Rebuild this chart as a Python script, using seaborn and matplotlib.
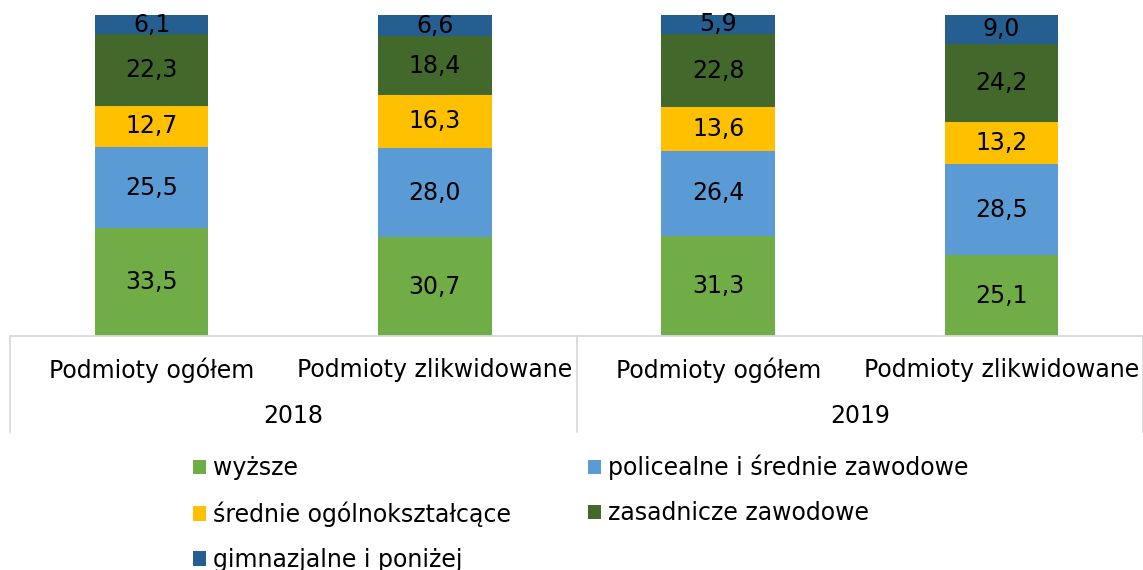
import matplotlib
matplotlib.use("Agg")
import matplotlib.pyplot as plt
import seaborn as sns
import pandas as pd
import numpy as np
from matplotlib.patches import Patch
from matplotlib.lines import Line2D

years = ["2018", "2018", "2019", "2019"]
categories = ["Podmioty ogółem", "Podmioty zlikwidowane", "Podmioty ogółem", "Podmioty zlikwidowane"]
series_names = ["wyższe", "policealne i średnie zawodowe", "średnie ogólnokształcące",
                "zasadnicze zawodowe", "gimnazjalne i poniżej"]
wyzsze = [33.5, 30.7, 31.3, 25.1]
policealne = [25.5, 28.0, 26.4, 28.5]
srednie_ogolne = [12.7, 16.3, 13.6, 13.2]
zasadnicze = [22.3, 18.4, 22.8, 24.2]
gimnazjalne = [6.1, 6.6, 5.9, 9.0]
colors = ["#70AD47", "#5B9BD5", "#FFC000", "#43682B", "#255E91"]

sns.set_theme(style="white")
plt.rcParams['font.family'] = ['DejaVu Sans']
plt.rcParams['text.color'] = 'black'
plt.rcParams['xtick.color'] = 'black'

FS = 17

fig = plt.figure(figsize=(11.43, 5.70), dpi=100)
ax = fig.add_axes([10/1143, 1 - 336/570, 1133/1143, (336 - 15)/570])

xkeys = ["a", "b", "c", "d"]
values = [wyzsze, policealne, srednie_ogolne, zasadnicze, gimnazjalne]
bottom = np.zeros(4)
for name, vals, col in zip(series_names, values, colors):
    df = pd.DataFrame({"x": xkeys, "y": vals})
    sns.barplot(data=df, x="x", y="y", color=col, width=0.4, bottom=bottom,
                ax=ax, edgecolor="none", linewidth=0, saturation=1)
    cont = ax.containers[-1]
    ax.bar_label(cont, labels=[f"{v:.1f}".replace(".", ",") for v in vals],
                 label_type="center", fontsize=FS, color="black")
    bottom = bottom + np.array(vals)

ax.set_ylim(0, 100)
ax.set_xlim(-0.5, 3.5)
ax.set_yticks([])
ax.set_xticks(range(4))
ax.set_xticklabels(categories, fontsize=FS, color="black")
ax.tick_params(axis="x", length=0, pad=15.5)
ax.set_xlabel("")
ax.set_ylabel("")
for s in ["left", "right", "top"]:
    ax.spines[s].set_visible(False)
ax.spines["bottom"].set_color("#D9D9D9")
ax.spines["bottom"].set_linewidth(1.3)

# group separators and year labels
tr = ax.get_xaxis_transform()
for xpos in [-0.5, 1.5, 3.5]:
    ax.add_line(Line2D([xpos, xpos], [0, -96/321], transform=tr, color="#D9D9D9",
                       lw=1.3, clip_on=False))
for xc, yr in [(0.5, "2018"), (2.5, "2019")]:
    ax.text(xc, -80/321, yr, transform=tr, ha="center", va="center", fontsize=FS,
            color="black")

handles = [Patch(facecolor=c, edgecolor="none") for c in colors]
order = [0, 2, 4, 1, 3]
fig.legend([handles[i] for i in order], [series_names[i] for i in order],
           ncol=2, loc="upper left", bbox_to_anchor=(181/1143, 1 - 443/570),
           frameon=False, fontsize=FS, handlelength=0.55, handleheight=0.55,
           handletextpad=0.3, labelspacing=0.89, columnspacing=3.27, borderpad=0,
           labelcolor="black")

fig.savefig("out.png", dpi=100)
